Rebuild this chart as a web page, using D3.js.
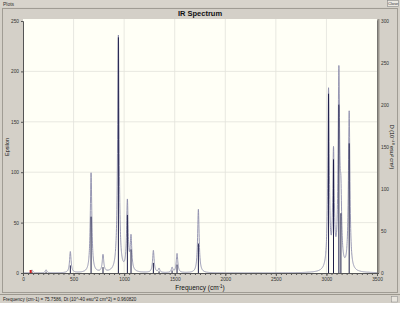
<!DOCTYPE html>
<html>
<head>
<meta charset="utf-8">
<script src="https://cdn.jsdelivr.net/npm/d3@7"></script>
<style>
  body { margin: 0; background: #ffffff; }
  svg { display: block; font-family: "Liberation Sans", Arial, sans-serif; }
</style>
</head>
<body>
<svg id="chart" width="400" height="336"></svg>
<script>
// peak frequencies (cm-1), broadened height (Epsilon, left axis), stick height (right axis)
let peakFreq = [89, 228, 468, 673, 791, 943, 1032, 1068, 1289, 1345, 1474, 1523, 1734, 3021, 3070, 3123, 3143, 3225];
let peakEps = [3, 3, 21, 99, 17, 235, 69, 33, 22, 4, 5, 19, 63, 178, 113, 190, 60, 158];
let stickD = [1, 1, 9, 67, 7, 280, 69, 28, 12, 2, 3, 10, 35, 213, 135, 200, 71, 154];
let xTicks = [0, 500, 1000, 1500, 2000, 2500, 3000, 3500];
let leftTicks = [0, 50, 100, 150, 200, 250];
let rightTicks = [0, 50, 100, 150, 200, 250, 300];
let hwhm = 9;

let svg = d3.select("#chart");
let plot = {left: 23, right: 377, top: 19, bottom: 273};

let x = d3.scaleLinear().domain([0, 3500]).range([plot.left, plot.right]);
let yL = d3.scaleLinear().domain([0, 250]).range([plot.bottom, plot.top + 2]);
let yR = d3.scaleLinear().domain([0, 300]).range([plot.bottom, plot.top + 1.5]);

// window chrome
svg.append("rect").attr("x", 0).attr("y", 0).attr("width", 400).attr("height", 303).attr("fill", "#d4d0c8");
svg.append("rect").attr("x", 0).attr("y", 0).attr("width", 400).attr("height", 7).attr("fill", "#d8d4cc");
svg.append("text").attr("x", 3).attr("y", 5.5).attr("font-size", 5).attr("fill", "#333").text("Plots");
svg.append("rect").attr("x", 387.5).attr("y", 0.5).attr("width", 11).attr("height", 6)
    .attr("fill", "#ece9e2").attr("stroke", "#888").attr("stroke-width", 0.6);
svg.append("text").attr("x", 393).attr("y", 5.3).attr("font-size", 4).attr("text-anchor", "middle")
    .attr("fill", "#333").text("Close");
svg.append("rect").attr("x", 2.5).attr("y", 8.5).attr("width", 395).attr("height", 284)
    .attr("fill", "none").attr("stroke", "#a09c94").attr("stroke-width", 1);
svg.append("line").attr("x1", 0).attr("x2", 400).attr("y1", 294.5).attr("y2", 294.5)
    .attr("stroke", "#9c988f");
svg.append("text").attr("x", 3).attr("y", 300.5).attr("font-size", 4.6).attr("fill", "#222")
    .text("Frequency (cm-1) = 75.7586, Dt (10^-40 esu^2 cm^2) = 0.960820");
svg.append("rect").attr("x", 391.5).attr("y", 296.5).attr("width", 6).attr("height", 5.5)
    .attr("fill", "#e8e5de").attr("stroke", "#888").attr("stroke-width", 0.5);

// title
svg.append("text").attr("x", 200).attr("y", 15.5).attr("text-anchor", "middle")
    .attr("font-size", 7.5).attr("font-weight", "bold").attr("fill", "#111").text("IR Spectrum");

// plot background
svg.append("rect").attr("x", plot.left).attr("y", plot.top)
    .attr("width", plot.right - plot.left).attr("height", plot.bottom - plot.top)
    .attr("fill", "#fffff6");

// grid
svg.append("g").selectAll("line").data(xTicks.slice(1, -1)).enter().append("line")
    .attr("x1", d => x(d)).attr("x2", d => x(d)).attr("y1", plot.top).attr("y2", plot.bottom)
    .attr("stroke", "#e2e2da").attr("stroke-width", 0.8);
svg.append("g").selectAll("line").data(leftTicks.slice(1, -1)).enter().append("line")
    .attr("x1", plot.left).attr("x2", plot.right).attr("y1", d => yL(d)).attr("y2", d => yL(d))
    .attr("stroke", "#e2e2da").attr("stroke-width", 0.8);

// broadened spectrum
let curve = [];
for (let f = 0; f <= 3500; f += 1) {
    let v = 0;
    for (let i = 0; i < peakFreq.length; i++) {
        let d = (f - peakFreq[i]) / hwhm;
        v += peakEps[i] / (1 + d * d);
    }
    curve.push([f, Math.min(v, 250)]);
}
let line = d3.line().x(d => x(d[0])).y(d => yL(d[1]));
svg.append("path").datum(curve).attr("d", line)
    .attr("fill", "none").attr("stroke", "#8c8cac").attr("stroke-width", 0.9);

// sticks
svg.append("g").selectAll("line").data(peakFreq).enter().append("line")
    .attr("x1", d => x(d)).attr("x2", d => x(d))
    .attr("y1", plot.bottom).attr("y2", (d, i) => yR(stickD[i]))
    .attr("stroke", "#1c1c48").attr("stroke-width", 1);

// cursor marker
svg.append("rect").attr("x", x(75.76) - 1).attr("y", plot.bottom - 3).attr("width", 2).attr("height", 3)
    .attr("fill", "#d02020");

// axes
let axStyle = g => {
    g.selectAll("text").attr("font-size", 4.8).attr("fill", "#333");
    g.selectAll("line").attr("stroke", "#555");
    g.select(".domain").attr("stroke", "#555");
};
svg.append("g").attr("transform", "translate(0," + plot.bottom + ")")
    .call(d3.axisBottom(x).tickValues(d3.range(0, 3501, 50)).tickSize(2).tickFormat(""))
    .call(axStyle);
svg.append("g").attr("transform", "translate(0," + plot.bottom + ")")
    .call(d3.axisBottom(x).tickValues(xTicks).tickSize(3).tickPadding(2).tickFormat(d3.format("d")))
    .call(axStyle);
svg.append("g").attr("transform", "translate(" + plot.left + ",0)")
    .call(d3.axisLeft(yL).tickValues(leftTicks).tickSize(2).tickPadding(2))
    .call(axStyle);
svg.append("g").attr("transform", "translate(" + plot.right + ",0)")
    .call(d3.axisRight(yR).tickValues(rightTicks).tickSize(2).tickPadding(2))
    .call(axStyle);
svg.append("line").attr("x1", plot.right + 1.5).attr("x2", plot.right + 1.5)
    .attr("y1", plot.top).attr("y2", plot.bottom).attr("stroke", "#9a968e").attr("stroke-width", 2);

// axis titles
svg.append("text").attr("x", 200).attr("y", 290).attr("text-anchor", "middle")
    .attr("font-size", 6.5).attr("fill", "#111")
    .html("Frequency (cm<tspan dy='-2' font-size='4.5'>-1</tspan><tspan dy='2'>)</tspan>");
svg.append("text").attr("transform", "translate(9,147) rotate(-90)").attr("text-anchor", "middle")
    .attr("font-size", 5.5).attr("fill", "#111").text("Epsilon");
svg.append("text").attr("transform", "translate(390,147) rotate(90)").attr("text-anchor", "middle")
    .attr("font-size", 5.5).attr("fill", "#111")
    .text("D (10\u207B\u2074\u2070 esu\u00B2 cm\u00B2)");
</script>
</body>
</html>
